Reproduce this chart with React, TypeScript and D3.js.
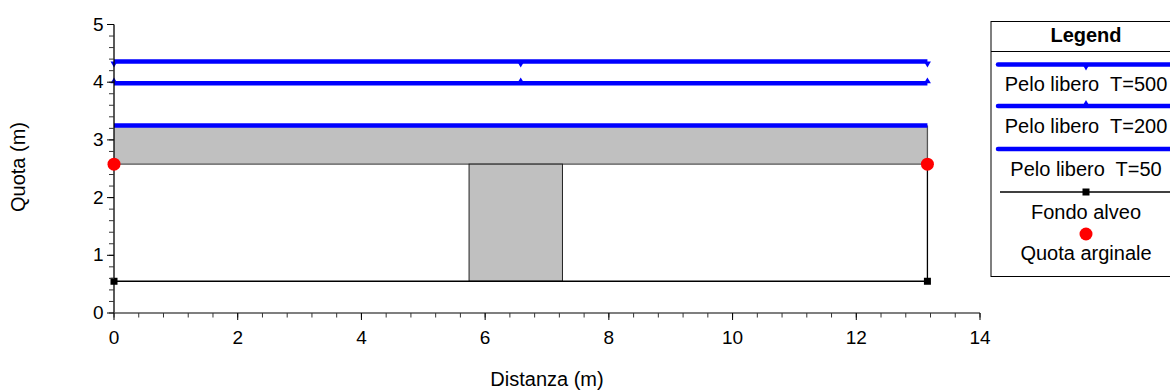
import React from "react";
import * as d3 from "d3";

// ---- data ----
const sectionX = [0, 13.15];
const peloLibero500 = [4.36, 4.36, 4.36];
const peloLibero200 = [3.98, 3.98, 3.98];
const peloLibero50 = [3.25, 3.25, 3.25];
const surfaceX = [0, 6.575, 13.15];
const fondoAlveo = [0.55, 0.55];
const quotaArginale = [2.58, 2.58];
const deckBottom = 2.58;
const deckTop = 3.25;
const pierX = [5.74, 7.25];
const xTicks = [0, 2, 4, 6, 8, 10, 12, 14];
const yTicks = [0, 1, 2, 3, 4, 5];
const legendLabels = [
  "Pelo libero  T=500",
  "Pelo libero  T=200",
  "Pelo libero  T=50",
  "Fondo alveo",
  "Quota arginale",
];

const W = 1170;
const H = 390;
const FONT = "'Liberation Sans', Arial, sans-serif";
const BLUE = "#0000ff";

export default function App() {
  const x = d3.scaleLinear().domain([0, 14]).range([114, 980]);
  const y = d3.scaleLinear().domain([0, 5]).range([313, 24.5]);

  const xMinor = d3.range(0, 14.0001, 0.4);
  const yMinor = d3.range(0, 5.0001, 0.2);

  const line = d3
    .line<[number, number]>()
    .x((d) => x(d[0]))
    .y((d) => y(d[1]));

  const waterSeries = [
    { vals: peloLibero500, marker: "down" },
    { vals: peloLibero200, marker: "up" },
    { vals: peloLibero50, marker: "none" },
  ];

  const tri = (cx: number, cy: number, dir: string) => {
    const s = 3.5;
    if (dir === "down")
      return `M${cx - s},${cy} L${cx + s},${cy} L${cx},${cy + s * 1.7} Z`;
    return `M${cx - s},${cy} L${cx + s},${cy} L${cx},${cy - s * 1.7} Z`;
  };

  const lx = 991;
  const lcx = 1086;
  const legendLineY = [64.5, 106, 149];
  const legendTextY = [91, 132.7, 175.7];

  return (
    <svg
      width={W}
      height={H}
      style={{ position: "absolute", left: 0, top: 0, background: "#fff" }}
      fontFamily={FONT}
    >
      {/* deck */}
      <rect
        x={x(sectionX[0])}
        y={y(deckTop)}
        width={x(sectionX[1]) - x(sectionX[0])}
        height={y(deckBottom) - y(deckTop)}
        fill="#c0c0c0"
      />
      <line
        x1={x(sectionX[0])}
        x2={x(sectionX[1])}
        y1={y(deckBottom)}
        y2={y(deckBottom)}
        stroke="#555"
        strokeWidth={1.3}
      />
      <line
        x1={x(sectionX[1])}
        x2={x(sectionX[1])}
        y1={y(deckBottom)}
        y2={y(deckTop)}
        stroke="#555"
        strokeWidth={1.3}
      />
      {/* pier */}
      <rect
        x={x(pierX[0])}
        y={y(deckBottom)}
        width={x(pierX[1]) - x(pierX[0])}
        height={y(fondoAlveo[0]) - y(deckBottom)}
        fill="#c0c0c0"
        stroke="#222"
        strokeWidth={1}
      />
      {/* right bank vertical */}
      <line
        x1={x(sectionX[1])}
        x2={x(sectionX[1])}
        y1={y(fondoAlveo[1])}
        y2={y(quotaArginale[1])}
        stroke="#000"
        strokeWidth={1.3}
      />
      {/* fondo alveo */}
      <path
        d={line(sectionX.map((v, i) => [v, fondoAlveo[i]]) as [number, number][]) || ""}
        stroke="#000"
        strokeWidth={1.5}
        fill="none"
      />
      {sectionX.map((v, i) => (
        <rect
          key={"sq" + i}
          x={x(v) - 3.5}
          y={y(fondoAlveo[i]) - 3.5}
          width={7}
          height={7}
          fill="#000"
        />
      ))}
      {/* water surfaces */}
      {waterSeries.map((s, k) => (
        <g key={"ws" + k}>
          <path
            d={line(surfaceX.map((v, i) => [v, s.vals[i]]) as [number, number][]) || ""}
            stroke={BLUE}
            strokeWidth={4.5}
            fill="none"
          />
          {s.marker !== "none" &&
            surfaceX.map((v, i) => (
              <path key={i} d={tri(x(v), y(s.vals[i]), s.marker)} fill={BLUE} />
            ))}
        </g>
      ))}
      {/* axes */}
      <line x1={x(0)} x2={x(0)} y1={y(0)} y2={y(5)} stroke="#000" strokeWidth={1.3} />
      <line x1={x(0)} x2={x(14)} y1={y(0)} y2={y(0)} stroke="#555" strokeWidth={1.3} />
      {xMinor.map((v, i) => (
        <line key={"xm" + i} x1={x(v)} x2={x(v)} y1={y(0)} y2={y(0) + 4.5} stroke="#333" />
      ))}
      {xTicks.map((v) => (
        <g key={"xt" + v}>
          <line x1={x(v)} x2={x(v)} y1={y(0)} y2={y(0) + 7} stroke="#000" />
          <text x={x(v)} y={y(0) + 31} textAnchor="middle" fontSize={19}>
            {v}
          </text>
        </g>
      ))}
      {yMinor.map((v, i) => (
        <line key={"ym" + i} x1={x(0) - 5} x2={x(0)} y1={y(v)} y2={y(v)} stroke="#333" />
      ))}
      {yTicks.map((v) => (
        <g key={"yt" + v}>
          <line x1={x(0) - 7} x2={x(0)} y1={y(v)} y2={y(v)} stroke="#000" />
          <text x={x(0) - 10.5} y={y(v) + 6} textAnchor="end" fontSize={19}>
            {v}
          </text>
        </g>
      ))}
      {/* quota arginale */}
      {sectionX.map((v, i) => (
        <circle key={"qa" + i} cx={x(v)} cy={y(quotaArginale[i])} r={6.5} fill="#ff0000" />
      ))}
      {/* axis titles */}
      <text x={547} y={386} textAnchor="middle" fontSize={20}>
        Distanza (m)
      </text>
      <text
        transform="translate(25,167) rotate(-90)"
        textAnchor="middle"
        fontSize={20}
      >
        Quota (m)
      </text>
      {/* legend */}
      <g>
        <rect x={lx} y={21.5} width={200} height={255} fill="#fff" stroke="#000" strokeWidth={1} />
        <line x1={lx} x2={lx + 200} y1={51.5} y2={51.5} stroke="#000" strokeWidth={1} />
        <text x={lcx} y={41.7} textAnchor="middle" fontSize={20} fontWeight="bold">
          Legend
        </text>
        {legendLineY.map((ly, k) => (
          <g key={"lg" + k}>
            <line x1={998} x2={1175} y1={ly} y2={ly} stroke={BLUE} strokeWidth={4.5} strokeLinecap="round" />
            {waterSeries[k].marker !== "none" && (
              <path d={tri(lcx, ly, waterSeries[k].marker)} fill={BLUE} />
            )}
            <text
              x={lcx}
              y={legendTextY[k]}
              textAnchor="middle"
              fontSize={20}
              style={{ whiteSpace: "pre" }}
            >
              {legendLabels[k]}
            </text>
          </g>
        ))}
        <line x1={1000} x2={1175} y1={192} y2={192} stroke="#000" strokeWidth={1.5} />
        <rect x={lcx - 3.5} y={192 - 3.5} width={7} height={7} fill="#000" />
        <text x={lcx} y={219} textAnchor="middle" fontSize={20}>
          {legendLabels[3]}
        </text>
        <circle cx={lcx} cy={234} r={6.5} fill="#ff0000" />
        <text x={lcx} y={260} textAnchor="middle" fontSize={20}>
          {legendLabels[4]}
        </text>
      </g>
    </svg>
  );
}
